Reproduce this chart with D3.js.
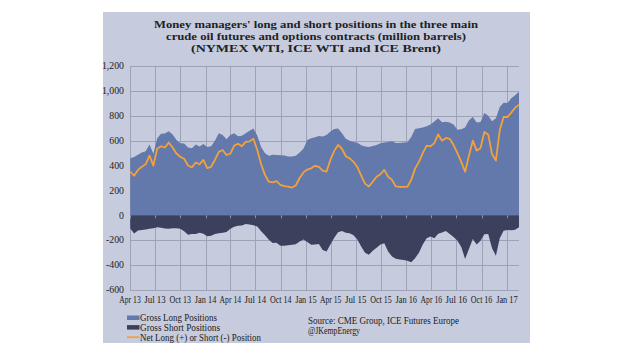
<!DOCTYPE html>
<html><head><meta charset="utf-8">
<script src="https://cdn.jsdelivr.net/npm/d3@7"></script>
<style>body{margin:0;background:#fff} svg{display:block}</style>
</head><body><svg id="c" width="620" height="355"></svg>
<script>
const dates = [
"2013-04-02","2013-04-16","2013-04-30","2013-05-14","2013-05-28","2013-06-11","2013-06-25","2013-07-09","2013-07-23","2013-08-06",
"2013-08-20","2013-09-03","2013-09-17","2013-10-01","2013-10-15","2013-10-29","2013-11-12","2013-11-26","2013-12-10","2013-12-24",
"2014-01-07","2014-01-21","2014-02-04","2014-02-18","2014-03-04","2014-03-18","2014-04-01","2014-04-15","2014-04-29","2014-05-13",
"2014-05-27","2014-06-10","2014-06-24","2014-07-08","2014-07-22","2014-08-05","2014-08-19","2014-09-02","2014-09-16","2014-09-30",
"2014-10-14","2014-10-28","2014-11-11","2014-11-25","2014-12-09","2014-12-23","2015-01-06","2015-01-20","2015-02-03","2015-02-17",
"2015-03-03","2015-03-17","2015-03-31","2015-04-14","2015-04-28","2015-05-12","2015-05-26","2015-06-09","2015-06-23","2015-07-07",
"2015-07-21","2015-08-04","2015-08-18","2015-09-01","2015-09-15","2015-09-29","2015-10-13","2015-10-27","2015-11-10","2015-11-24",
"2015-12-08","2015-12-22","2016-01-05","2016-01-19","2016-02-02","2016-02-16","2016-03-01","2016-03-15","2016-03-29","2016-04-12",
"2016-04-26","2016-05-10","2016-05-24","2016-06-07","2016-06-21","2016-07-05","2016-07-19","2016-08-02","2016-08-16","2016-08-30",
"2016-09-13","2016-09-27","2016-10-11","2016-10-25","2016-11-08","2016-11-22","2016-12-06","2016-12-20","2017-01-03","2017-01-17",
"2017-01-31","2017-02-14"];

const grossLong = [
459,468,486,505,515,570,495,620,655,658,
675,650,605,580,578,545,540,570,553,574,
550,555,600,660,645,612,645,660,635,640,
660,680,698,640,550,499,478,486,484,483,
480,472,472,478,505,535,605,620,628,638,
633,645,673,694,698,660,615,600,590,583,
563,553,550,557,565,580,585,590,596,582,
582,585,588,630,693,700,706,715,730,755,
780,748,752,745,730,688,692,705,765,790,
745,750,822,800,757,780,870,905,902,940,
965,994];

const grossShort = [
-105,-145,-122,-118,-113,-108,-103,-96,-100,-106,
-107,-103,-103,-108,-127,-157,-150,-149,-140,-148,
-168,-165,-149,-144,-140,-134,-108,-92,-84,-81,
-69,-74,-80,-90,-128,-160,-196,-222,-220,-245,
-245,-240,-237,-232,-210,-194,-214,-237,-235,-230,
-278,-290,-235,-180,-136,-126,-139,-143,-160,-195,
-250,-300,-317,-285,-260,-235,-225,-290,-331,-348,
-355,-358,-365,-378,-345,-300,-235,-185,-170,-185,
-147,-138,-126,-150,-175,-205,-255,-350,-270,-190,
-235,-205,-152,-150,-265,-325,-185,-123,-118,-120,
-115,-95];

const netPosition = [
352,318,365,390,410,480,400,535,555,545,
585,545,497,470,455,400,385,425,410,445,
380,390,445,510,525,485,495,560,575,555,
590,595,615,525,410,325,270,265,275,245,
235,231,223,240,300,345,368,378,398,390,
360,352,446,518,566,535,475,458,430,388,
320,255,232,270,310,330,365,310,285,232,
228,228,230,285,375,430,500,560,555,580,
650,600,622,615,565,500,430,350,480,600,
520,540,670,650,492,440,685,790,790,825,
865,890];

const yTicks = [-600,-400,-200,0,200,400,600,800,1000,1200];
const yTickLabels = ["-600","-400","-200","0","200","400","600","800","1,000","1,200"];
const xTickLabels = ["Apr 13","Jul 13","Oct 13","Jan 14","Apr 14","Jul 14","Oct 14","Jan 15",
                     "Apr 15","Jul 15","Oct 15","Jan 16","Apr 16","Jul 16","Oct 16","Jan 17"];
const titleLines = ["Money managers' long and short positions in the three main",
                    "crude oil futures and options contracts (million barrels)",
                    "(NYMEX WTI, ICE WTI and ICE Brent)"];
const titleWidths = [324, 300, 250];
const legendLabels = ["Gross Long Positions","Gross Short Positions","Net Long (+) or Short (-) Position"];
const sourceLines = ["Source:  CME Group, ICE Futures Europe","@JKempEnergy"];

const COL_PANEL = "#c6cbdd", COL_LONG = "#6379ab", COL_SHORT = "#3b405d",
      COL_NET = "#f3a13c", COL_GRID = "#9da2b6", COL_TEXT = "#222";
const FONT = "'Liberation Serif', 'DejaVu Serif', serif";

const svg = d3.select("#c");
const parseD = d3.timeParse("%Y-%m-%d");
const parseTick = d3.timeParse("%b %y");
const D = dates.map(parseD);
const data = D.map((d,i)=>({d, long:grossLong[i], short:grossShort[i], net:netPosition[i]}));

const x = d3.scaleTime().domain([new Date(2013,3,1), D[D.length-1]]).range([130,519]);
const y = d3.scaleLinear().domain([-600,1200]).range([290,66]);

// panel
svg.append("rect").attr("x",103).attr("y",12).attr("width",427).attr("height",331).attr("fill",COL_PANEL);

// title
svg.append("g").selectAll("text").data(titleLines).join("text")
  .attr("x",316).attr("y",(d,i)=>27.8+i*12.2).attr("text-anchor","middle")
  .attr("font-family",FONT).attr("font-weight","bold").attr("font-size",11.2).attr("fill",COL_TEXT)
  .attr("textLength",(d,i)=>titleWidths[i]).attr("lengthAdjust","spacingAndGlyphs")
  .text(d=>d);

const xTickDates = xTickLabels.map(parseTick);

// grid
const grid = svg.append("g").attr("stroke",COL_GRID).attr("stroke-width",1);
grid.selectAll(".h").data(yTicks).join("line")
  .attr("x1",x.range()[0]).attr("x2",x.range()[1])
  .attr("y1",d=>Math.round(y(d))+0.5).attr("y2",d=>Math.round(y(d))+0.5);
grid.selectAll(".v").data(xTickDates).join("line")
  .attr("x1",d=>Math.round(x(d))+0.5).attr("x2",d=>Math.round(x(d))+0.5)
  .attr("y1",y(1200)).attr("y2",y(-600));

// areas
const areaLong = d3.area().x(d=>x(d.d)).y0(y(0)).y1(d=>y(d.long));
const areaShort = d3.area().x(d=>x(d.d)).y0(y(0)).y1(d=>y(d.short));
svg.append("path").datum(data).attr("d",areaLong).attr("fill",COL_LONG);
svg.append("path").datum(data).attr("d",areaShort).attr("fill",COL_SHORT);

// zero-axis ticks
svg.append("g").selectAll("line").data(xTickDates).join("line")
  .attr("x1",d=>Math.round(x(d))+0.5).attr("x2",d=>Math.round(x(d))+0.5)
  .attr("y1",y(0)).attr("y2",y(0)+3).attr("stroke","#8d93ab").attr("stroke-width",1);

// net line
svg.append("path").datum(data)
  .attr("d",d3.line().x(d=>x(d.d)).y(d=>y(d.net)))
  .attr("fill","none").attr("stroke",COL_NET).attr("stroke-width",1.8).attr("stroke-linejoin","round");

// y axis labels
svg.append("g").selectAll("text").data(yTicks).join("text")
  .attr("x",124).attr("y",d=>y(d)+3.2).attr("text-anchor","end")
  .attr("font-family",FONT).attr("font-size",9.8).attr("fill",COL_TEXT)
  .text((d,i)=>yTickLabels[i]);

// x axis labels
svg.append("g").selectAll("text").data(xTickDates).join("text")
  .attr("x",d=>x(d)).attr("y",302.5).attr("text-anchor","middle")
  .attr("font-family",FONT).attr("font-size",9.4).attr("fill",COL_TEXT)
  .attr("textLength",21.5).attr("lengthAdjust","spacingAndGlyphs")
  .text((d,i)=>xTickLabels[i]);

// legend
const lg = svg.append("g");
const legendCols = [COL_LONG, COL_SHORT, COL_NET];
const legendWidths = [77, 80, 121];
legendLabels.forEach((t,i)=>{
  const cy = 318 + i*9.6;
  if(i<2){
    lg.append("rect").attr("x",127).attr("y",cy-2.5).attr("width",12.5).attr("height",4.5).attr("fill",legendCols[i]);
  } else {
    lg.append("line").attr("x1",127).attr("x2",139.5).attr("y1",cy).attr("y2",cy)
      .attr("stroke",COL_NET).attr("stroke-width",1.8);
  }
  lg.append("text").attr("x",140).attr("y",cy+3.4).attr("font-family",FONT).attr("font-size",10)
    .attr("textLength",legendWidths[i]).attr("lengthAdjust","spacingAndGlyphs")
    .attr("fill",COL_TEXT).text(t);
});

// source
const sourceWidths = [151, 52];
svg.append("g").selectAll("text").data(sourceLines).join("text")
  .attr("x",308).attr("y",(d,i)=>323.5+i*10).attr("font-family",FONT).attr("font-size",10)
  .attr("textLength",(d,i)=>sourceWidths[i]).attr("lengthAdjust","spacingAndGlyphs")
  .attr("fill",COL_TEXT).text(d=>d);
</script>
</body></html>
